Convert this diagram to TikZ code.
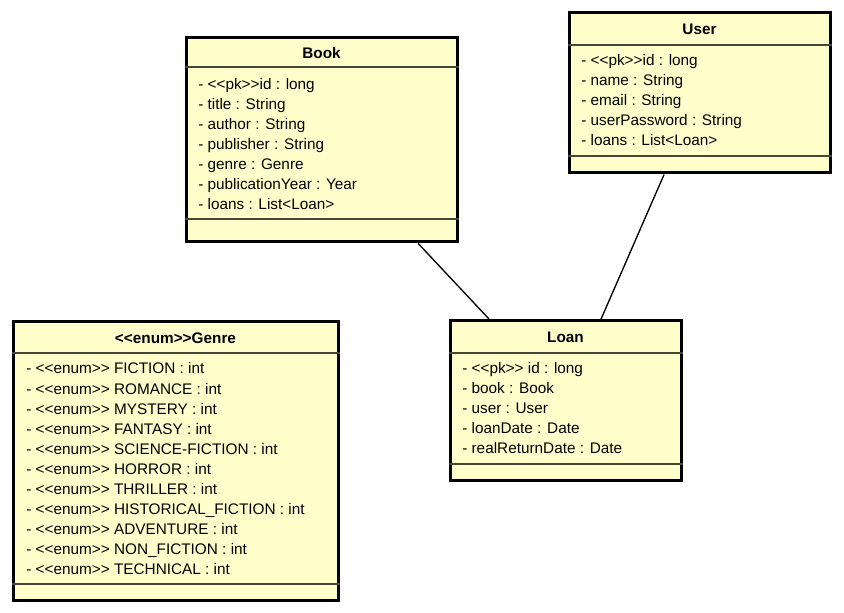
\documentclass[tikz,border=0pt]{standalone}
\usepackage{fontspec}
\setmainfont{Liberation Sans}[Ligatures=TeXOff]
\definecolor{umlfill}{RGB}{255,255,204}
\definecolor{sepline}{RGB}{70,70,55}
\begin{document}
\begin{tikzpicture}[x=0.75pt,y=-0.75pt,
  classbox/.style={rectangle,draw=black,line width=2.25pt,fill=umlfill,inner sep=0pt},
  compline/.style={draw=sepline,line width=0.9pt},
  attr/.style={anchor=base west,inner sep=0pt,font=\fontsize{11.5}{13}\selectfont},
  ctitle/.style={anchor=base,inner sep=0pt,font=\fontsize{11.5}{13}\selectfont\bfseries},
  assoc/.style={draw=black,line width=1pt}]
\useasboundingbox (0,0) rectangle (844,613);
\fill[white] (0,0) rectangle (844,613);

% class boxes
\node[classbox,minimum width=203.25pt,minimum height=153pt] (book) at (321.5,140) {};
\node[classbox,minimum width=195.75pt,minimum height=120pt] (user) at (699.5,93) {};
\node[classbox,minimum width=173.25pt,minimum height=120pt] (loan) at (565.5,401) {};
\node[classbox,minimum width=243.75pt,minimum height=208.5pt] (genre) at (175.5,461) {};

% associations
\draw[assoc] (book) -- (loan);
\draw[assoc] (user) -- (loan);

% Book
\draw[compline] (book.west |- 0,67) -- (book.east |- 0,67);
\draw[compline] (book.west |- 0,219) -- (book.east |- 0,219);
\node[ctitle] (book-t) at (321.5,59) {Book};
\foreach \txt [count=\i] in {- <<pk>>id : long, - title : String, - author : String,
  - publisher : String, - genre : Genre, - publicationYear : Year, - loans : List<Loan>}
  \node[attr] (book-a\i) at (198,{90+20*(\i-1)}) {\txt};

% User
\draw[compline] (user.west |- 0,45) -- (user.east |- 0,45);
\draw[compline] (user.west |- 0,156) -- (user.east |- 0,156);
\node[ctitle] (user-t) at (699.5,35) {User};
\foreach \txt [count=\i] in {- <<pk>>id : long, - name : String, - email : String,
  - userPassword : String, - loans : List<Loan>}
  \node[attr] (user-a\i) at (581,{66+20*(\i-1)}) {\txt};

% Loan
\draw[compline] (loan.west |- 0,353) -- (loan.east |- 0,353);
\draw[compline] (loan.west |- 0,464) -- (loan.east |- 0,464);
\node[ctitle] (loan-t) at (565.5,343) {Loan};
\foreach \txt [count=\i] in {- <<pk>> id : long, - book : Book, - user : User,
  - loanDate : Date, - realReturnDate : Date}
  \node[attr] (loan-a\i) at (462,{374+20*(\i-1)}) {\txt};

% Genre
\draw[compline] (genre.west |- 0,353) -- (genre.east |- 0,353);
\draw[compline] (genre.west |- 0,584) -- (genre.east |- 0,584);
\node[ctitle] (genre-t) at (175.5,344) {<<enum>>Genre};
\foreach \txt [count=\i] in {FICTION, ROMANCE, MYSTERY, FANTASY, SCIENCE-FICTION,
  HORROR, THRILLER, HISTORICAL\_FICTION, ADVENTURE, NON\_FICTION, TECHNICAL}
  \node[attr] (genre-a\i) at (26,{374+20.1*(\i-1)}) {- <<enum>> \txt\ : int};
\end{tikzpicture}
\end{document}
